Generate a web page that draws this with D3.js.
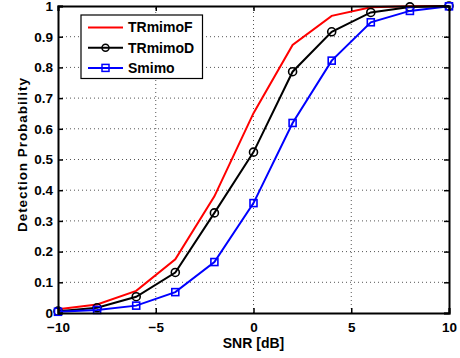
<!DOCTYPE html>
<html>
<head>
<meta charset="utf-8">
<script src="https://cdn.jsdelivr.net/npm/d3@7"></script>
<style>
  body { margin: 0; background: #fff; }
  svg { font-family: "Liberation Sans", Arial, sans-serif; font-weight: bold; }
</style>
</head>
<body>
<div id="chart"></div>
<script>
// SNR values (dB)
const snr = [-10, -8, -6, -4, -2, 0, 2, 4, 6, 8, 10];
// detection probability per scheme
const trmimoF = [0.012, 0.028, 0.072, 0.175, 0.38, 0.651, 0.873, 0.968, 0.996, 0.999, 1.0];
const trmimoD = [0.006, 0.017, 0.053, 0.132, 0.326, 0.524, 0.786, 0.916, 0.979, 0.997, 1.0];
const smimo = [0.004, 0.01, 0.024, 0.068, 0.166, 0.358, 0.619, 0.822, 0.947, 0.984, 0.999];
const xTicks = [-10, -5, 0, 5, 10];
const yTicks = [0, 0.1, 0.2, 0.3, 0.4, 0.5, 0.6, 0.7, 0.8, 0.9, 1];

const series = [
  {name: 'TRmimoF', values: trmimoF, color: '#ff0000', marker: 'none'},
  {name: 'TRmimoD', values: trmimoD, color: '#000000', marker: 'circle'},
  {name: 'Smimo', values: smimo, color: '#0000ff', marker: 'square'}
];

const width = 460, height = 358;
const margin = {left: 58, right: 11, top: 6, bottom: 45};

const svg = d3.select('#chart').append('svg')
  .attr('width', width).attr('height', height);

const x = d3.scaleLinear().domain([-10, 10]).range([margin.left, width - margin.right]);
const y = d3.scaleLinear().domain([0, 1]).range([height - margin.bottom, margin.top]);

// grid
const grid = svg.append('g').attr('class', 'grid');
grid.selectAll('.gx').data(xTicks.slice(1, -1)).enter().append('line')
  .attr('x1', d => x(d)).attr('x2', d => x(d))
  .attr('y1', y(0)).attr('y2', y(1))
  .attr('stroke', '#555').attr('stroke-width', 1).attr('stroke-dasharray', '1,3');
grid.selectAll('.gy').data(yTicks.slice(1, -1)).enter().append('line')
  .attr('x1', x(-10)).attr('x2', x(10))
  .attr('y1', d => y(d)).attr('y2', d => y(d))
  .attr('stroke', '#555').attr('stroke-width', 1).attr('stroke-dasharray', '1,3');

// series
const line = d3.line().x((d, i) => x(snr[i])).y(d => y(d));
series.forEach(s => {
  const g = svg.append('g');
  g.append('path').datum(s.values)
    .attr('d', line).attr('fill', 'none')
    .attr('stroke', s.color).attr('stroke-width', 2);
  if (s.marker === 'circle') {
    g.selectAll('circle').data(s.values).enter().append('circle')
      .attr('cx', (d, i) => x(snr[i])).attr('cy', d => y(d)).attr('r', 4)
      .attr('fill', 'none').attr('stroke', s.color).attr('stroke-width', 1.6);
  } else if (s.marker === 'square') {
    g.selectAll('rect').data(s.values).enter().append('rect')
      .attr('x', (d, i) => x(snr[i]) - 3.5).attr('y', d => y(d) - 3.5)
      .attr('width', 7).attr('height', 7)
      .attr('fill', 'none').attr('stroke', s.color).attr('stroke-width', 1.6);
  }
});

// axes (MATLAB style, ticks inward)
const fmtX = d => d < 0 ? '\u2212' + Math.abs(d) : String(d);
svg.append('g').attr('transform', `translate(0,${y(0)})`)
  .call(d3.axisBottom(x).tickValues(xTicks).tickSize(-5).tickPadding(9.5).tickFormat(fmtX));
svg.append('g').attr('transform', `translate(${x(-10)},0)`)
  .call(d3.axisLeft(y).tickValues(yTicks).tickSize(-5).tickPadding(5).tickFormat(d => String(+d.toFixed(1))));
svg.append('g').attr('transform', `translate(0,${y(1)})`)
  .call(d3.axisTop(x).tickValues(xTicks).tickSize(-5).tickFormat(''));
svg.append('g').attr('transform', `translate(${x(10)},0)`)
  .call(d3.axisRight(y).tickValues(yTicks).tickSize(-5).tickFormat(''));

svg.selectAll('.domain').attr('stroke', '#000').attr('stroke-width', 2);
svg.selectAll('.tick line').attr('stroke', '#000').attr('stroke-width', 1.5);
svg.selectAll('.tick text').attr('font-size', 13.5).attr('font-weight', 'bold')
  .attr('font-family', '"Liberation Sans", Arial, sans-serif').attr('fill', '#000');

// labels
svg.append('text').attr('x', x(0)).attr('y', 347.5)
  .attr('text-anchor', 'middle').attr('font-size', 14).text('SNR [dB]');
svg.append('text').attr('transform', 'translate(27,155) rotate(-90)')
  .attr('text-anchor', 'middle').attr('font-size', 13.5)
  .attr('textLength', 154).attr('lengthAdjust', 'spacing')
  .text('Detection Probability');

// legend
const lg = svg.append('g').attr('transform', 'translate(81,15)');
lg.append('rect').attr('width', 121.5).attr('height', 63.5)
  .attr('fill', '#fff').attr('stroke', '#000').attr('stroke-width', 1.2);
series.forEach((s, i) => {
  const cy = 12.5 + i * 20.2;
  lg.append('line').attr('x1', 7).attr('x2', 42).attr('y1', cy).attr('y2', cy)
    .attr('stroke', s.color).attr('stroke-width', 2);
  if (s.marker === 'circle') {
    lg.append('circle').attr('cx', 24.5).attr('cy', cy).attr('r', 3.5)
      .attr('fill', 'none').attr('stroke', s.color).attr('stroke-width', 1.5);
  } else if (s.marker === 'square') {
    lg.append('rect').attr('x', 21).attr('y', cy - 3.5).attr('width', 7).attr('height', 7)
      .attr('fill', 'none').attr('stroke', s.color).attr('stroke-width', 1.5);
  }
  lg.append('text').attr('x', 47).attr('y', cy + 4.8).attr('font-size', 14).text(s.name);
});
</script>
</body>
</html>
